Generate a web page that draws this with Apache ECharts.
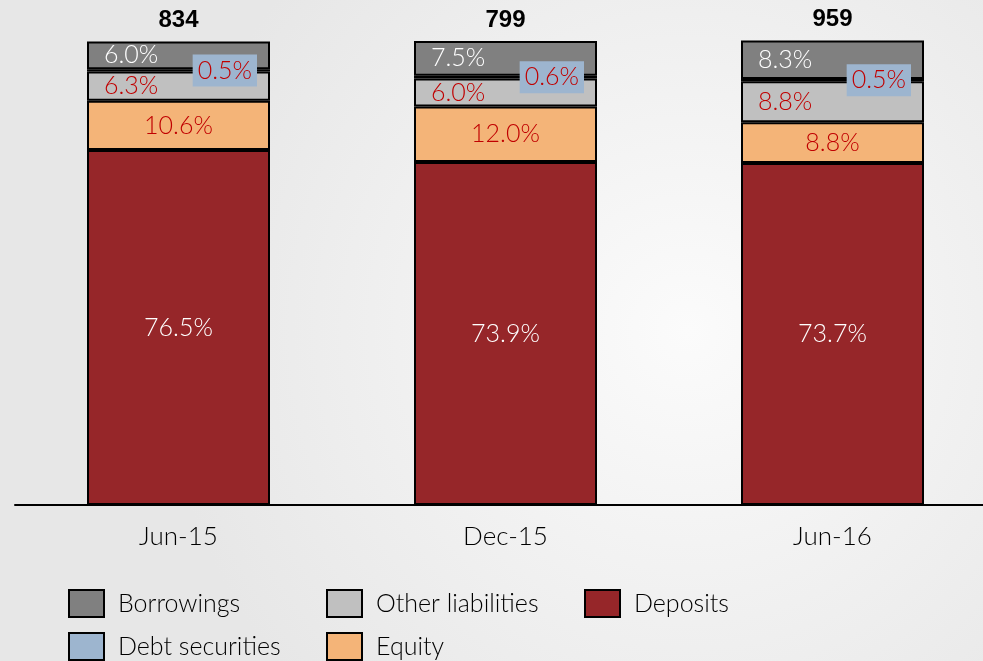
<!DOCTYPE html>
<html>
<head>
<meta charset="utf-8">
<script src="https://cdn.jsdelivr.net/npm/echarts@6/dist/echarts.min.js"></script>
<style>
  html, body { margin: 0; padding: 0; }
  #main { width: 983px; height: 661px; }
</style>
</head>
<body>
<div id="main"></div>
<script>
// 数据
const categories = ['Jun-15', 'Dec-15', 'Jun-16']
const totals = [834, 799, 959]
const deposits = [76.5, 73.9, 73.7]
const equity = [10.6, 12.0, 8.8]
const otherLiabilities = [6.3, 6.0, 8.8]
const debtSecurities = [0.5, 0.6, 0.5]
const borrowings = [6.0, 7.5, 8.3]

const FONT = 'Lato'
const RED = '#c00000'

var chartDom = document.getElementById('main')
var myChart = echarts.init(chartDom)

const pct = (p) => p.value.toFixed(1) + '%'

const barBase = {
  type: 'bar',
  stack: 'total',
  barWidth: 183,
  clip: false,
  emphasis: { disabled: true },
}

const option = {
  backgroundColor: {
    type: 'radial', x: 0.7, y: 0.5, r: 0.8,
    colorStops: [
      { offset: 0, color: '#fbfbfb' },
      { offset: 1, color: '#e7e7e7' },
    ],
  },
  animation: false,
  grid: {
    left: 15,
    right: -13,
    top: 41,
    bottom: 156,
    outerBoundsMode: 'none',
  },
  legend: {
    // 图例 两行三列
    data: ['Borrowings', 'Other liabilities', 'Deposits', 'Debt securities', 'Equity'],
    left: 68,
    top: 589,
    width: 780,
    padding: 0,
    itemWidth: 35,
    itemHeight: 27,
    itemGap: 14,
    icon: 'rect',
    itemStyle: { borderColor: '#000', borderWidth: 2 },
    textStyle: {
      fontFamily: FONT,
      fontWeight: 300,
      fontSize: 25,
      color: '#000',
      width: 194,
      lineHeight: 28,
      padding: [0, 0, 0, 9],
    },
  },
  xAxis: {
    type: 'category',
    data: categories,
    axisTick: { show: false },
    axisLine: { lineStyle: { color: '#000', width: 2 } },
    axisLabel: {
      margin: 19,
      fontFamily: FONT,
      fontWeight: 300,
      fontSize: 26,
      color: '#000',
    },
  },
  yAxis: {
    type: 'value',
    min: 0,
    max: 100,
    show: false,
    splitLine: { show: false },
  },
  series: [
    {
      ...barBase,
      name: 'Deposits',
      data: deposits,
      itemStyle: { color: '#962629', borderColor: '#000', borderWidth: 2 },
      label: { show: true, position: 'inside', formatter: pct, color: '#fff', fontFamily: FONT, fontWeight: 300, fontSize: 25 },
    },
    {
      ...barBase,
      name: 'Equity',
      data: equity,
      itemStyle: { color: '#f4b478', borderColor: '#000', borderWidth: 2 },
      label: { show: true, position: 'inside', formatter: pct, color: RED, fontFamily: FONT, fontWeight: 300, fontSize: 25 },
    },
    {
      ...barBase,
      name: 'Other liabilities',
      data: otherLiabilities,
      itemStyle: { color: '#c0c0c0', borderColor: '#000', borderWidth: 2 },
      label: { show: true, position: 'insideLeft', distance: 17, formatter: pct, color: RED, fontFamily: FONT, fontWeight: 300, fontSize: 25 },
    },
    {
      ...barBase,
      name: 'Debt securities',
      data: debtSecurities,
      itemStyle: { color: '#9db5cf', borderColor: '#000', borderWidth: 2 },
      label: {
        show: true,
        position: 'insideRight',
        distance: 13,
        formatter: pct,
        color: RED,
        fontFamily: FONT,
        fontWeight: 300,
        fontSize: 25,
        backgroundColor: '#9db5cf',
        padding: [4, 5, 3, 5],
      },
    },
    {
      ...barBase,
      name: 'Borrowings',
      data: borrowings,
      itemStyle: { color: '#808080', borderColor: '#000', borderWidth: 2 },
      label: { show: true, position: 'insideLeft', distance: 17, formatter: pct, color: '#fff', fontFamily: FONT, fontWeight: 300, fontSize: 25 },
    },
    {
      // 顶部总额
      ...barBase,
      name: 'Total',
      data: totals.map(() => 0),
      itemStyle: { color: 'transparent', borderWidth: 0 },
      label: {
        show: true,
        position: 'top',
        distance: 9,
        formatter: (p) => String(totals[p.dataIndex]),
        color: '#000',
        fontFamily: 'Liberation Sans',
        fontWeight: 'bold',
        fontSize: 24,
      },
    },
  ],
}
option && myChart.setOption(option)
</script>
</body>
</html>
